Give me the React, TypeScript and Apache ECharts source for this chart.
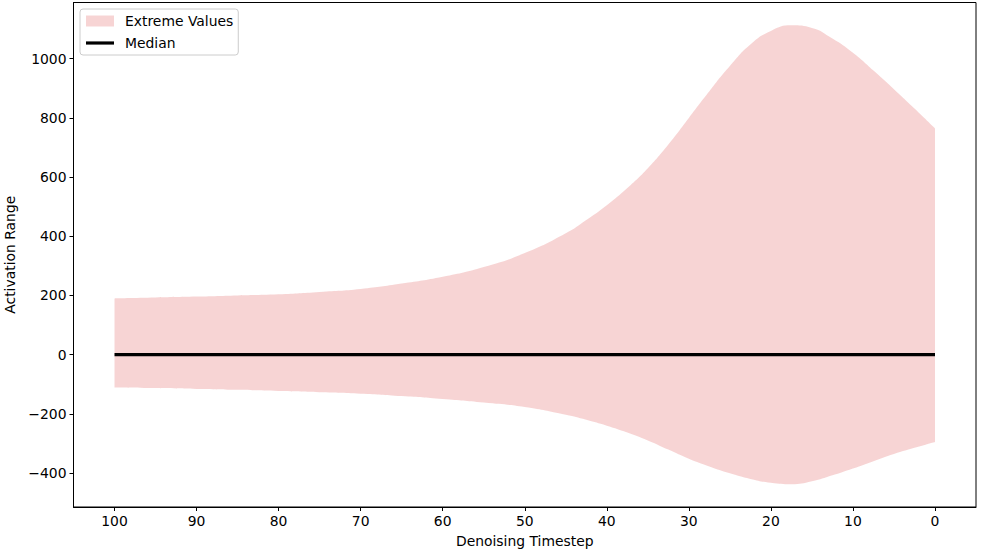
import React, { useEffect, useRef } from "react";
import * as echarts from "echarts";

const timesteps = [100, 95, 90, 85, 80, 75, 70, 65, 60, 55, 50, 45, 42.5, 40, 37.5, 35, 32.5, 30, 27.5, 25, 22.5, 20, 17.5, 15, 12.5, 10, 7.5, 5, 2.5, 0];
const upperValues = [190, 193, 196, 200, 204, 212, 222, 240, 263, 296, 343, 410, 455, 505, 563, 630, 710, 800, 890, 975, 1048, 1094, 1113, 1104, 1068, 1020, 960, 897, 832, 765];
const lowerValues = [-111, -113, -116, -119, -123, -127, -132, -140, -150, -162, -177, -203, -220, -240, -263, -290, -321, -352, -378, -401, -420, -433, -438, -428, -408, -385, -360, -336, -315, -295];
const medianValues = timesteps.map(() => 0);
const xTicks = [0, 10, 20, 30, 40, 50, 60, 70, 80, 90, 100];
const yTicks = [-400, -200, 0, 200, 400, 600, 800, 1000];

const FONT = "DejaVu Sans";
const FS = 13.9;
const BAND = "rgba(214,39,40,0.2)";
const fmt = (v: number) => String(v).replace("-", "\u2212");

export default function App() {
  const ref = useRef<HTMLDivElement>(null);
  useEffect(() => {
    if (!ref.current) return;
    const chart = echarts.init(ref.current, null, { renderer: "svg" });
    const upperData = timesteps.map((t, i) => [t, upperValues[i]]);
    const lowerData = timesteps.map((t, i) => [t, lowerValues[i]]);
    const medianData = timesteps.map((t, i) => [t, medianValues[i]]);
    chart.setOption({
      animation: false,
      backgroundColor: "#ffffff",
      textStyle: { fontFamily: FONT },
      grid: {
        left: 73.5,
        right: 5,
        top: 2.5,
        bottom: 46,
        containLabel: false,
        outerBoundsMode: "none",
        show: true,
        borderColor: "#000",
        borderWidth: 1,
        backgroundColor: "transparent",
      },
      legend: {
        left: 80,
        top: 9,
        orient: "vertical",
        padding: [4.5, 5, 4.5, 6],
        itemGap: 7,
        itemWidth: 28,
        itemHeight: 11,
        borderColor: "#cccccc",
        borderWidth: 1,
        borderRadius: 3,
        backgroundColor: "rgba(255,255,255,0.8)",
        textStyle: { fontFamily: FONT, fontSize: FS, color: "#000", lineHeight: 15, padding: [0, 0, 0, 6] },
        data: [
          { name: "Extreme Values", icon: "rect", itemStyle: { color: BAND } },
          { name: "Median", icon: "path://M0,0 L28,0 L28,3.2 L0,3.2 Z", itemStyle: { color: "#000" } },
        ],
      },
      xAxis: {
        type: "value",
        inverse: true,
        min: -5,
        max: 105,
        z: 10,
        name: "Denoising Timestep",
        nameLocation: "middle",
        nameGap: 27,
        nameTextStyle: { fontFamily: FONT, fontSize: FS, color: "#000" },
        axisLine: { show: true, onZero: false, lineStyle: { color: "#000", width: 1 } },
        axisTick: { show: true, length: 4, inside: false, customValues: xTicks, lineStyle: { color: "#000" } },
        axisLabel: { customValues: xTicks, fontFamily: FONT, fontSize: FS, color: "#000", margin: 7, formatter: fmt },
        splitLine: { show: false },
      },
      yAxis: {
        type: "value",
        min: -515,
        max: 1190,
        z: 10,
        name: "Activation Range",
        nameLocation: "middle",
        nameGap: 54,
        nameRotate: 90,
        nameTextStyle: { fontFamily: FONT, fontSize: FS, color: "#000" },
        axisLine: { show: true, onZero: false, lineStyle: { color: "#000", width: 1 } },
        axisTick: { show: true, length: 4, inside: false, customValues: yTicks, lineStyle: { color: "#000" } },
        axisLabel: { customValues: yTicks, fontFamily: FONT, fontSize: FS, color: "#000", margin: 7, formatter: fmt },
        splitLine: { show: false },
      },
      series: [
        {
          name: "Extreme Values",
          type: "line",
          data: upperData,
          smooth: 0.5,
          symbol: "none",
          silent: true,
          itemStyle: { color: BAND },
          lineStyle: { opacity: 0, width: 0 },
          areaStyle: { color: BAND, opacity: 1, origin: 0 },
          z: 1,
        },
        {
          name: "lower",
          type: "line",
          data: lowerData,
          smooth: 0.5,
          symbol: "none",
          silent: true,
          itemStyle: { color: BAND },
          lineStyle: { opacity: 0, width: 0 },
          areaStyle: { color: BAND, opacity: 1, origin: 0 },
          z: 1,
        },
        {
          name: "Median",
          type: "line",
          data: medianData,
          symbol: "none",
          itemStyle: { color: "#000" },
          lineStyle: { color: "#000", width: 3.2 },
          z: 3,
        },
      ],
    });
    return () => chart.dispose();
  }, []);
  return <div ref={ref} style={{ width: 981, height: 553, position: "absolute", left: 0, top: 0 }} />;
}
